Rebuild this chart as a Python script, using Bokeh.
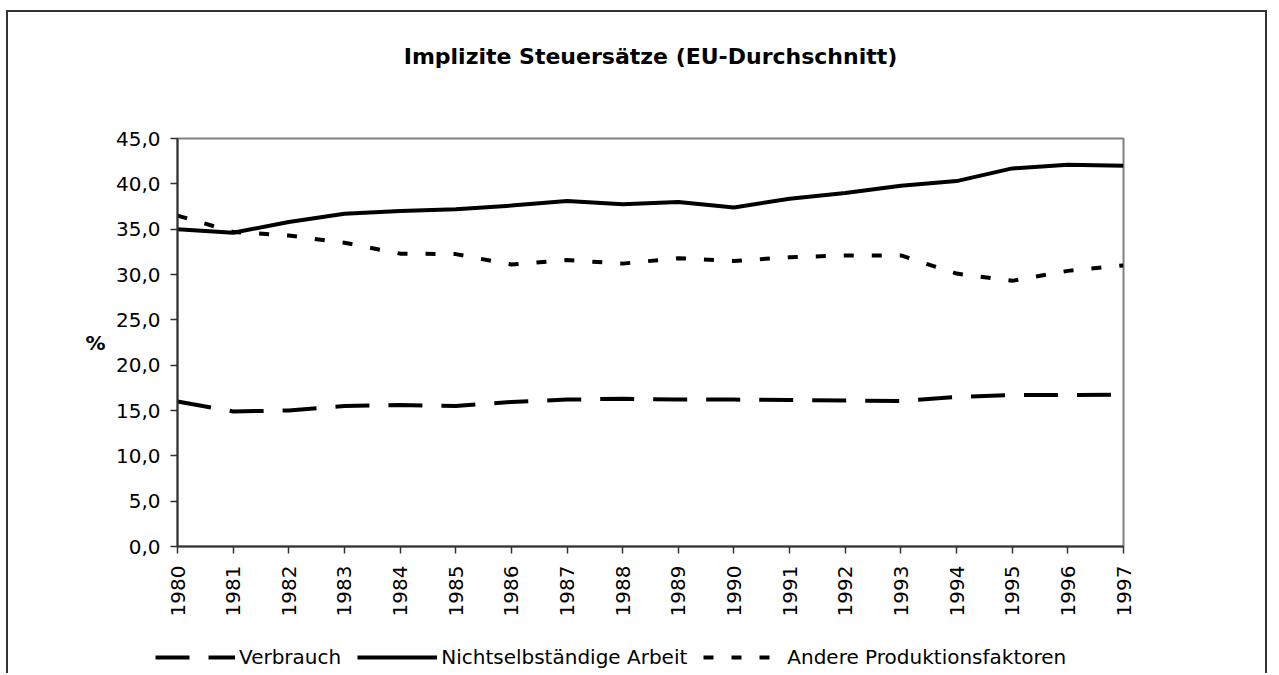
from bokeh.plotting import figure
from bokeh.models import FixedTicker, Legend, LegendItem, Range1d, LinearAxis
from bokeh.embed import file_html
from bokeh.resources import INLINE
import math

years = list(range(1980, 1998))
verbrauch = [16.0, 14.9, 15.0, 15.5, 15.6, 15.5, 15.95, 16.2, 16.3, 16.2, 16.2, 16.15, 16.1, 16.05, 16.5, 16.7, 16.7, 16.75]
arbeit = [35.0, 34.6, 35.8, 36.7, 37.0, 37.2, 37.6, 38.1, 37.75, 38.0, 37.4, 38.35, 39.0, 39.8, 40.3, 41.7, 42.1, 42.0]
andere = [36.5, 34.7, 34.3, 33.5, 32.3, 32.25, 31.1, 31.6, 31.2, 31.8, 31.5, 31.9, 32.1, 32.1, 30.1, 29.3, 30.4, 31.0]
y_ticks = [0, 5, 10, 15, 20, 25, 30, 35, 40, 45]
y_tick_labels = ["0,0", "5,0", "10,0", "15,0", "20,0", "25,0", "30,0", "35,0", "40,0", "45,0"]
title_text = "Implizite Steuersätze (EU-Durchschnitt)"
unit_label = "%"
unit_pos = 22.5
series_names = ["Verbrauch", "Nichtselbständige Arbeit", "Andere Produktionsfaktoren"]

FONT = "DejaVu Sans"
W = 1261

p = figure(width=W, height=623, output_backend="svg", toolbar_location=None, title_location=None,
           x_range=Range1d(1980, 1997), y_range=Range1d(0, 45),
           min_border_left=169, min_border_right=146, min_border_top=126, min_border_bottom=89)
p.styles = {"margin-left": "6px", "margin-top": "10px",
            "border-top": "2px solid #333", "border-left": "2px solid #333",
            "border-right": "2px solid #333"}
p.background_fill_color = "white"
p.border_fill_color = "white"
p.outline_line_color = "#808080"
p.outline_line_width = 2
p.xgrid.visible = False
p.ygrid.visible = False

dash_v = "34 19"
dash_a = "10 18"
r1 = p.line(years, verbrauch, line_color="black", line_width=4, line_dash=dash_v)
r2 = p.line(years, arbeit, line_color="black", line_width=4)
r3 = p.line(years, andere, line_color="black", line_width=4, line_dash=dash_a)

for ax in (p.xaxis[0], p.yaxis[0]):
    ax.axis_line_color = "#333333"
    ax.axis_line_width = 2
    ax.major_tick_line_color = "#333333"
    ax.major_tick_line_width = 1.5
    ax.major_tick_in = 0
    ax.major_tick_out = 7
    ax.minor_tick_line_color = None
    ax.major_label_text_font = FONT
    ax.major_label_text_font_size = "20px"
    ax.major_label_text_color = "black"

p.xaxis.ticker = FixedTicker(ticks=years)
p.xaxis.major_label_orientation = math.pi / 2
p.xaxis.major_label_standoff = 12
p.yaxis.ticker = FixedTicker(ticks=y_ticks)
p.yaxis.major_label_overrides = {t: l for t, l in zip(y_ticks, y_tick_labels)}
p.yaxis.major_label_standoff = 10

# unit label "%" as a bare left axis with one tick
unit_axis = LinearAxis(ticker=FixedTicker(ticks=[unit_pos]),
                       major_label_overrides={unit_pos: unit_label},
                       axis_line_color=None, major_tick_line_color=None, minor_tick_line_color=None,
                       major_tick_in=0, major_tick_out=0, major_label_standoff=7,
                       major_label_text_font=FONT, major_label_text_font_size="20px",
                       major_label_text_font_style="bold", major_label_text_color="black")
p.add_layout(unit_axis, "left")

# title as a bare top axis with one centred tick
mid_year = (years[0] + years[-1]) / 2
title_axis = LinearAxis(ticker=FixedTicker(ticks=[mid_year]),
                        major_label_overrides={mid_year: title_text},
                        axis_line_color=None, major_tick_line_color=None, minor_tick_line_color=None,
                        major_tick_in=0, major_tick_out=0, major_label_standoff=70,
                        major_label_text_font=FONT, major_label_text_font_size="22px",
                        major_label_text_font_style="bold", major_label_text_color="black")
p.add_layout(title_axis, "above")

# legend strip below the chart (separate root so frames are not aligned)
lg = figure(width=W, height=40, output_backend="svg", toolbar_location=None, title_location=None,
            x_range=Range1d(0, 1), y_range=Range1d(0, 1), x_axis_type=None, y_axis_type=None,
            min_border=0, min_border_left=0, min_border_right=0, min_border_top=0, min_border_bottom=0)
lg.styles = {"margin-left": "6px", "border-left": "2px solid #333", "border-right": "2px solid #333"}
lg.outline_line_color = None
lg.background_fill_color = "white"
lg.border_fill_color = "white"
lg.xgrid.visible = False
lg.ygrid.visible = False
off = [5, 6]
l1 = lg.line(off, off, line_color="black", line_width=4, line_dash=dash_v)
l2 = lg.line(off, off, line_color="black", line_width=4)
l3 = lg.line(off, off, line_color="black", line_width=4, line_dash=dash_a)
legend = Legend(items=[LegendItem(label=series_names[0], renderers=[l1]),
                       LegendItem(label=series_names[1], renderers=[l2]),
                       LegendItem(label=series_names[2], renderers=[l3])],
                orientation="horizontal", location=(147, 4),
                glyph_width=80, glyph_height=20, label_standoff=4, spacing=16,
                label_text_font=FONT, label_text_font_size="20px", label_text_color="black",
                border_line_color=None, background_fill_alpha=0, padding=0, margin=0)
lg.add_layout(legend, "center")

open("out.html", "w").write(file_html([p, lg], INLINE))
